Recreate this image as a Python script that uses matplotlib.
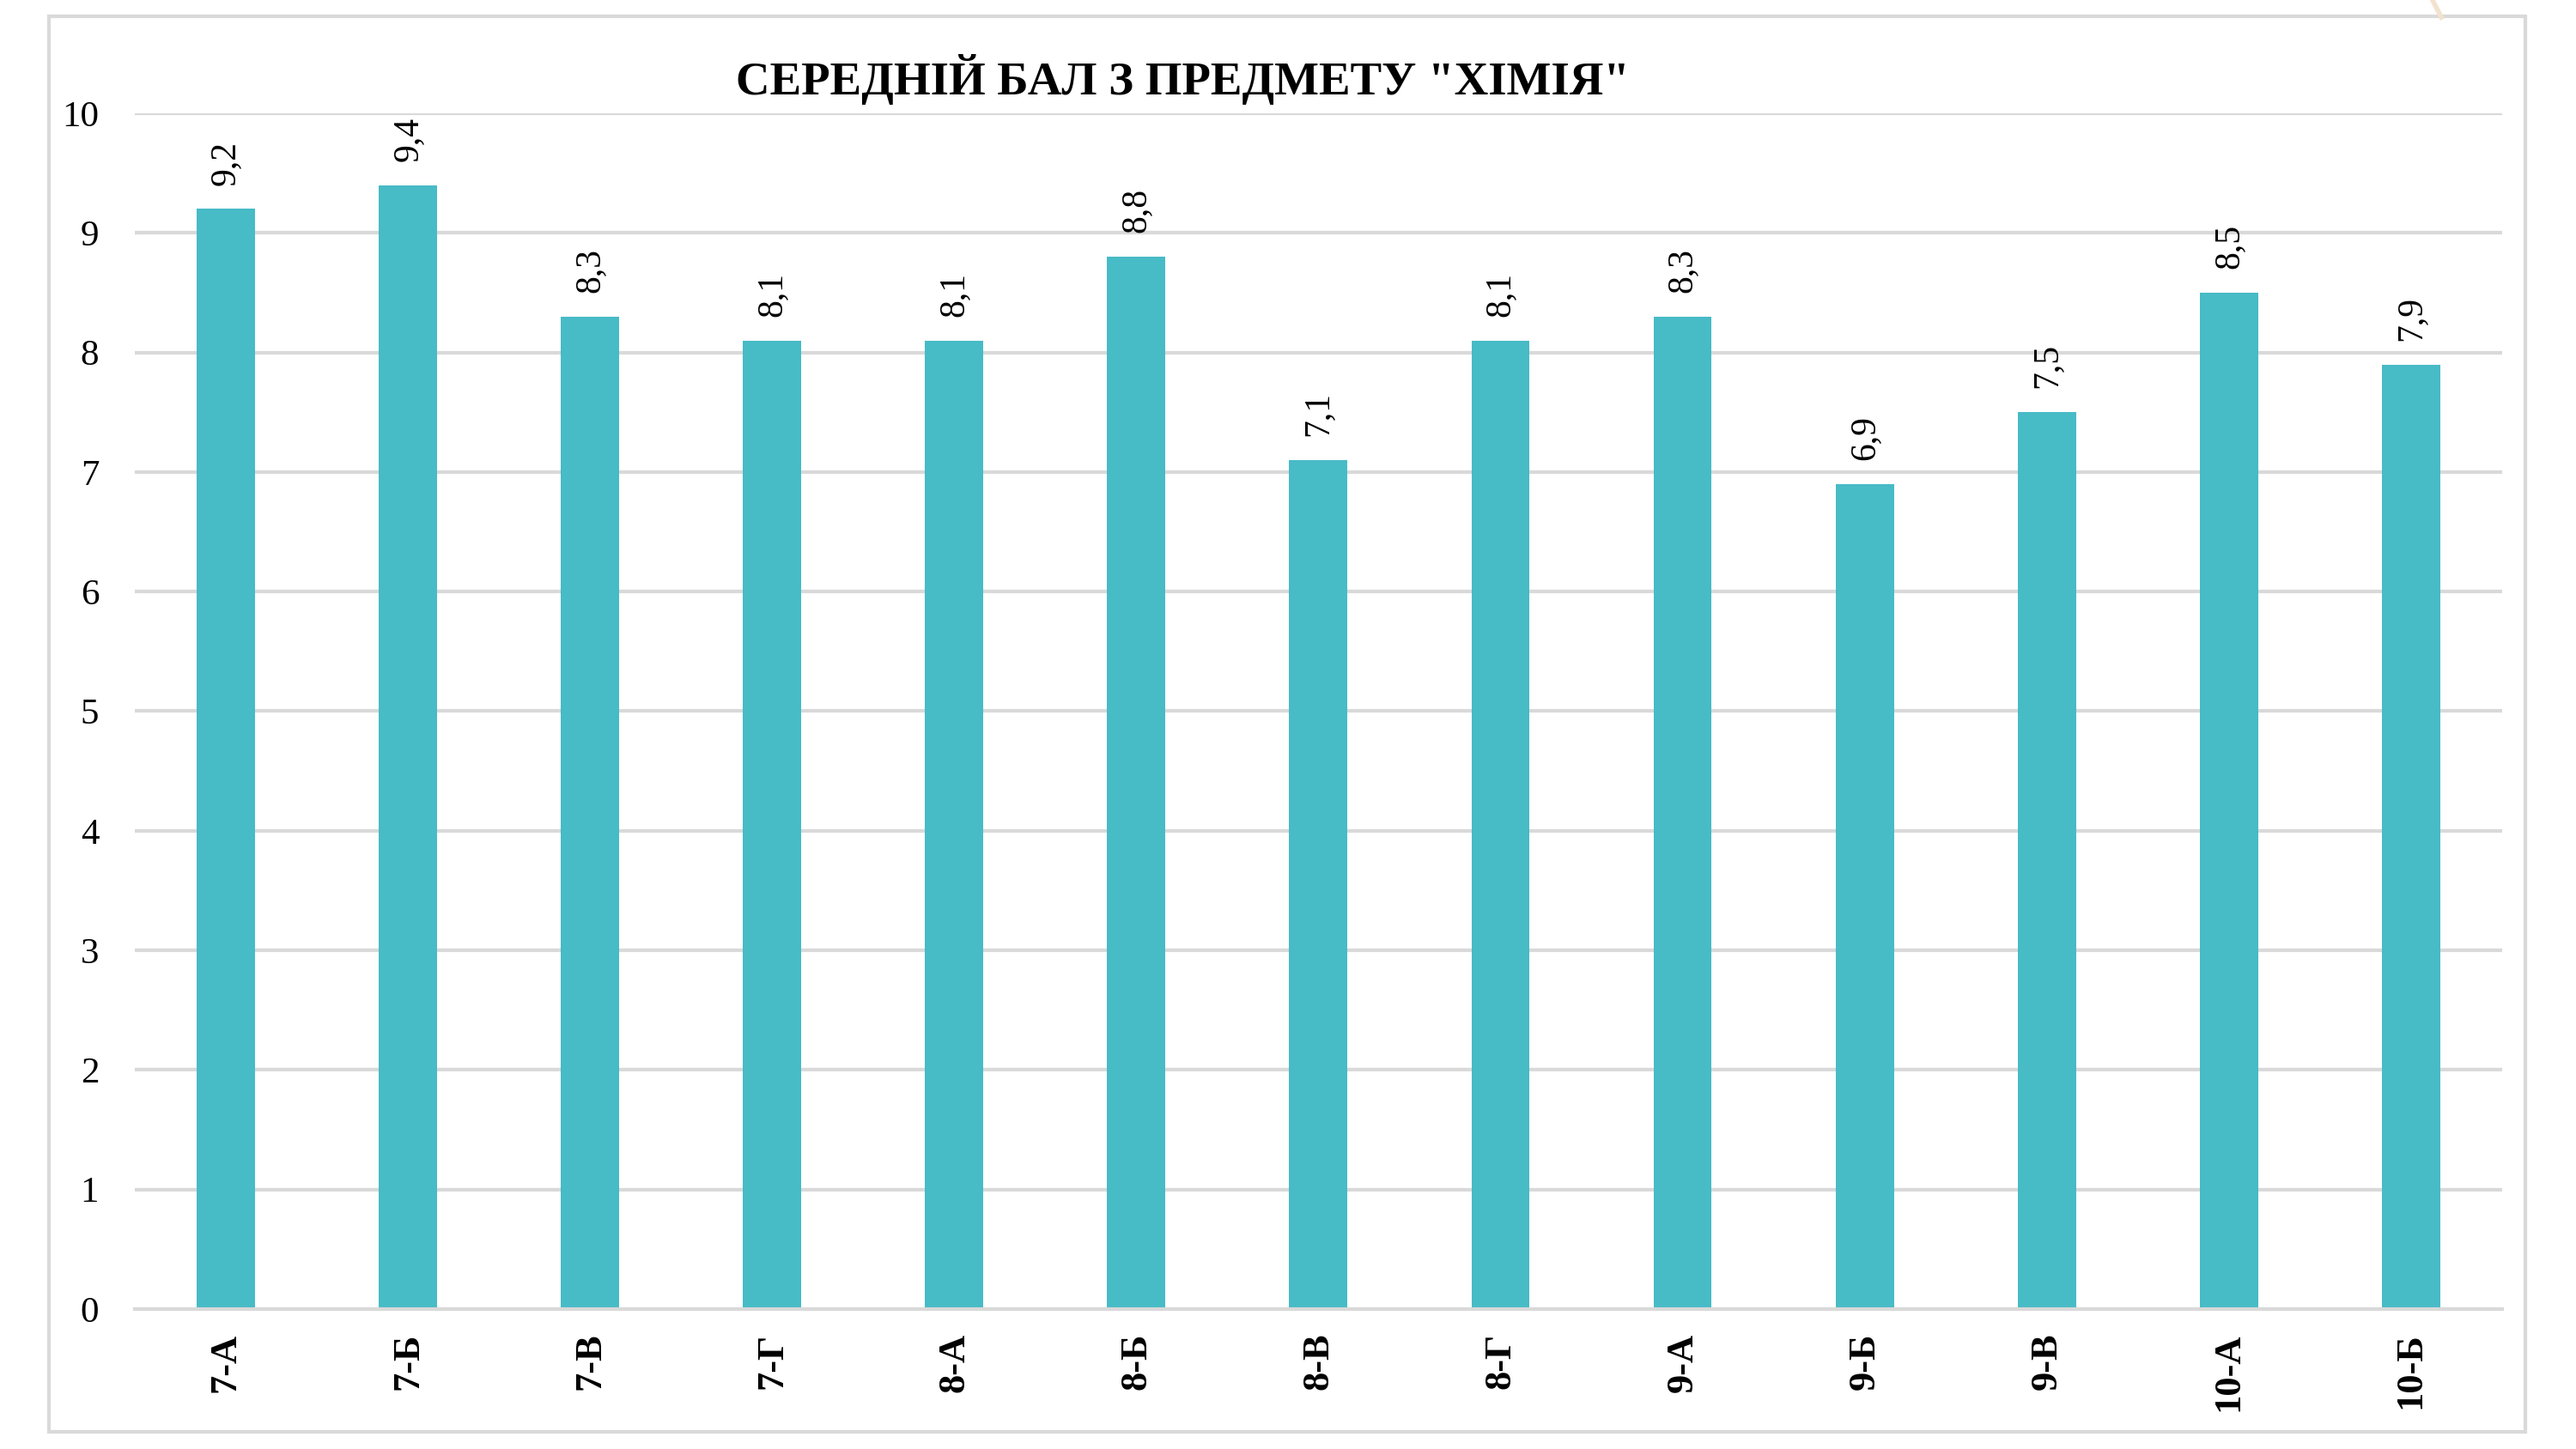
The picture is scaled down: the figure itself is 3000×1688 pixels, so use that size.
import matplotlib.pyplot as plt
from matplotlib.patches import Rectangle
from matplotlib.lines import Line2D

plt.rcParams['font.family'] = ['Liberation Serif', 'DejaVu Serif']

# середній бал по класах
classes = ['7-А', '7-Б', '7-В', '7-Г', '8-А', '8-Б', '8-В', '8-Г',
           '9-А', '9-Б', '9-В', '10-А', '10-Б']
scores = [9.2, 9.4, 8.3, 8.1, 8.1, 8.8, 7.1, 8.1, 8.3, 6.9, 7.5, 8.5, 7.9]
title = 'СЕРЕДНІЙ БАЛ З ПРЕДМЕТУ "ХІМІЯ"'

fig = plt.figure(figsize=(30, 16.88), dpi=100)
ax = fig.add_axes([0.0523, 0.0966, 0.919, 0.8252])

x = range(len(classes))
bars = ax.bar(x, scores, width=0.32, color='#47BBC6', zorder=3)

ax.set_xlim(-0.5, len(classes) - 0.5)
ax.set_ylim(0, 10)
ax.set_yticks(range(0, 11))
ax.yaxis.grid(True, color='#D9D9D9', linewidth=3, zorder=0)
for s in ['top', 'left', 'right']:
    ax.spines[s].set_visible(False)
ax.spines['bottom'].set_color('#D9D9D9')
ax.spines['bottom'].set_linewidth(3)
ax.spines['bottom'].set_zorder(4)

ax.set_xticks(list(x))
ax.set_xticklabels(classes, rotation=90, fontsize=32, fontweight='bold', va='top')
ax.tick_params(axis='x', length=0, pad=20)
ax.tick_params(axis='y', length=0, pad=30, labelsize=31)

for b, v in zip(bars, scores):
    ax.annotate(f'{v:.1f}'.replace('.', ','), (b.get_x() + b.get_width() / 2, v),
                xytext=(0, 20), textcoords='offset points', rotation=90,
                ha='center', va='bottom', fontsize=30)

fig.text(0.459, 0.945, title, ha='center', va='center', fontsize=39.5, fontweight='bold')

# рамка діаграми
fig.add_artist(Rectangle((0.019, 0.0118), 0.9613, 0.9769, transform=fig.transFigure,
                         fill=False, edgecolor='#D9D9D9', linewidth=3))
# декоративна лінія слайду
fig.add_artist(Line2D([0.9443, 0.9477], [1.0, 0.988], transform=fig.transFigure,
                      color='#F2E2CF', linewidth=4))

fig.savefig('out.png', dpi=100, facecolor='white')
